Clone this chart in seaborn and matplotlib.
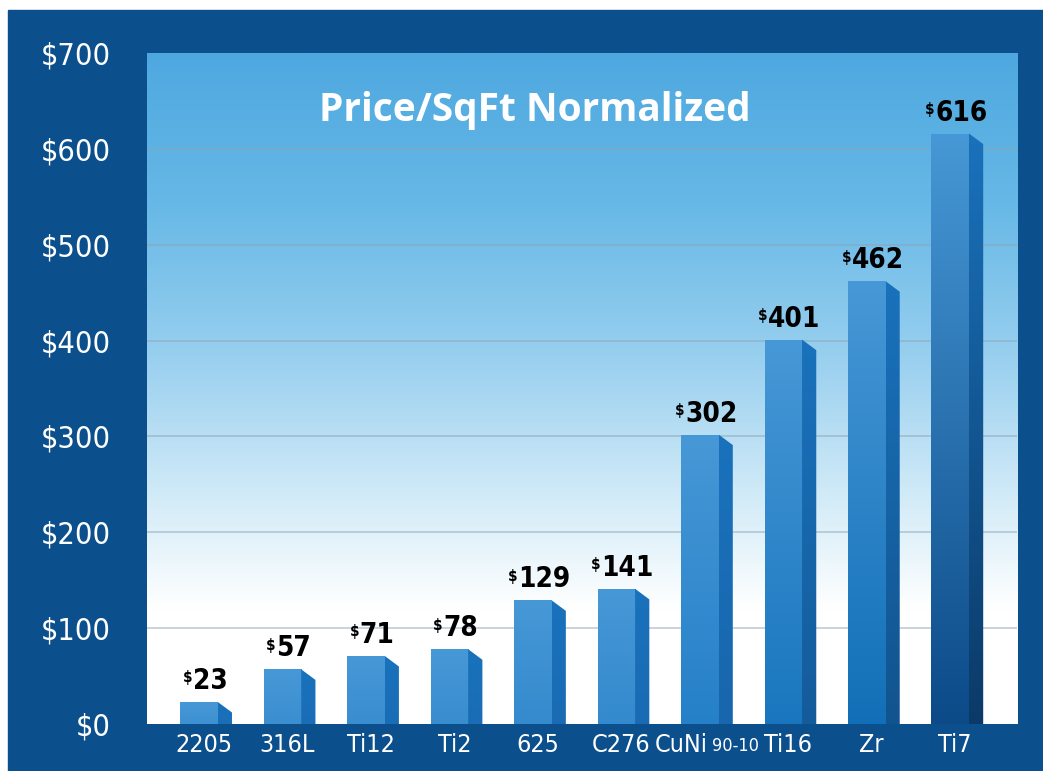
#!/usr/bin/env python3
"""Price/SqFt Normalized bar chart (pseudo-3D bars on a blue panel)."""

import os
import numpy as np
import pandas as pd
import matplotlib
matplotlib.use('Agg')
import matplotlib.pyplot as plt
from matplotlib import font_manager
from matplotlib.font_manager import FontProperties
from matplotlib.colors import LinearSegmentedColormap, to_rgb
from matplotlib.patches import Rectangle, Polygon
import seaborn as sns

# ── Data ──────────────────────────────────────────────────────────────────
materials = ['2205', '316L', 'Ti12', 'Ti2', '625', 'C276', 'CuNi 90-10', 'Ti16', 'Zr', 'Ti7']
prices = [23, 57, 71, 78, 129, 141, 302, 401, 462, 616]
y_ticks = [0, 100, 200, 300, 400, 500, 600, 700]
y_tick_labels = ['$0', '$100', '$200', '$300', '$400', '$500', '$600', '$700']

# ── Styling ───────────────────────────────────────────────────────────────
FRAME = '#0b4f8c'
W, H = 1043, 771

sns.set_theme(style='white')

# look for a condensed face (regular + bold) among the installed fonts
fonts = font_manager.fontManager.ttflist
installed = {f.name for f in fonts}


def is_narrow(f):
    base = os.path.basename(f.fname)
    return ('Narrow' in f.name or 'Condensed' in f.name or 'Condensed' in base
            or f.stretch in ('condensed', 'semi-condensed'))


narrow = [f for f in fonts if is_narrow(f) and f.style == 'normal'
          and 'Italic' not in os.path.basename(f.fname)]


def pick(target):
    cands = [f for f in narrow if '[' not in os.path.basename(f.fname)]
    if not cands:
        return None
    return min(cands, key=lambda f: abs(int(f.weight) - target) if str(f.weight).isdigit()
               else abs({'normal': 400, 'regular': 400, 'bold': 700}.get(f.weight, 400) - target))


reg_face, bold_face = pick(400), pick(700)
if reg_face is not None:
    FP_REG = FontProperties(fname=reg_face.fname)
else:
    FP_REG = FontProperties(family='Roboto' if 'Roboto' in installed else 'DejaVu Sans')
if bold_face is not None and bold_face.fname != getattr(reg_face, 'fname', None):
    FP_BOLD = FontProperties(fname=bold_face.fname)
else:
    FP_BOLD = FontProperties(family='Roboto' if 'Roboto' in installed else 'DejaVu Sans',
                             weight='bold')
TITLE_FONT = 'Open Sans' if 'Open Sans' in installed else 'DejaVu Sans'


def fp(base, size):
    p = base.copy()
    p.set_size(size)
    return p


df = pd.DataFrame({'material': materials, 'price': prices})

fig = plt.figure(figsize=(W / 100, H / 100), dpi=100)
fig.patch.set_facecolor('white')
fig.patches.append(Rectangle((8 / W, 0), 1 - 8 / W, 1 - 10 / H,
                             transform=fig.transFigure, color=FRAME, zorder=-10))

ax = fig.add_axes([147 / W, 1 - 724 / H, (1017 - 147) / W, (724 - 53) / H])

# background gradient: light sky blue at top fading to white near the bottom
bg_cmap = LinearSegmentedColormap.from_list('bg', [
    (0.00, '#ffffff'), (0.17, '#ffffff'), (0.33, '#d4ecf8'),
    (0.55, '#98cfef'), (0.78, '#66b8e6'), (1.00, '#4ea8e0')])
grad = np.linspace(0, 1, 256).reshape(-1, 1)
ax.imshow(grad, cmap=bg_cmap, origin='lower', aspect='auto',
          extent=[0, 1, 0, 1], transform=ax.transAxes, zorder=0)

sns.barplot(data=df, x='material', y='price', width=0.45, ax=ax,
            color='#4798d6', saturation=1, zorder=3)

ax.set_xlim(-0.623, 9.80)
ax.set_ylim(0, 700)
ax.set_yticks(y_ticks)
ax.set_yticklabels(y_tick_labels, color='white', fontproperties=fp(FP_REG, 22))
ax.tick_params(axis='y', length=0, pad=26)
ax.set_xticks([])
ax.set_xlabel('')
ax.set_ylabel('')
for s in ax.spines.values():
    s.set_visible(False)
for yv in y_ticks[1:-1]:
    ax.axhline(yv, color='#8ea3b3', alpha=0.55, lw=1.2, zorder=1)

# ── Pseudo-3D bars ────────────────────────────────────────────────────────
front_bottom = LinearSegmentedColormap.from_list('fb', [
    (0.00, '#3f92d2'), (0.50, '#2580c8'), (0.75, '#1270b8'), (1.00, '#0c4a88')])
side_bottom = LinearSegmentedColormap.from_list('sb', [
    (0.00, '#1a6fb8'), (0.50, '#1866ad'), (0.75, '#12548f'), (1.00, '#0b3a68')])
side_dx, side_dy = 0.17, 11

vmax = max(prices)
for patch, val in zip(ax.patches, prices):
    x0, w, h = patch.get_x(), patch.get_width(), patch.get_height()
    cm_front = LinearSegmentedColormap.from_list(
        'f', [front_bottom(val / vmax)[:3], to_rgb('#4798d6')])
    patch.set_facecolor('none')
    patch.set_edgecolor('none')
    im = ax.imshow(grad, cmap=cm_front, origin='lower', aspect='auto',
                   extent=[x0, x0 + w, 0, h], zorder=3)
    im.set_clip_path(patch)

    side = Polygon([(x0 + w, h), (x0 + w + side_dx, h - side_dy),
                    (x0 + w + side_dx, 0), (x0 + w, 0)],
                   closed=True, facecolor='none', edgecolor='none', zorder=3)
    ax.add_patch(side)
    cm_side = LinearSegmentedColormap.from_list(
        's', [side_bottom(val / vmax)[:3], to_rgb('#1a72bc')])
    im2 = ax.imshow(grad, cmap=cm_side, origin='lower', aspect='auto',
                    extent=[x0 + w, x0 + w + side_dx, 0, h], zorder=3)
    im2.set_clip_path(side)

    # value label with a small raised dollar sign
    cx = x0 + (w + side_dx) / 2
    num = ax.annotate(f'{val}', xy=(cx, h), xytext=(3, 5), textcoords='offset points',
                      ha='center', va='bottom', fontproperties=fp(FP_BOLD, 20),
                      color='black', zorder=5)
    ax.annotate('$', xy=(0, 0.88), xycoords=num, xytext=(-0.5, 0), textcoords='offset points',
                ha='right', va='top', fontproperties=fp(FP_BOLD, 11),
                color='black', zorder=5)

ax.set_xlim(-0.623, 9.80)
ax.set_ylim(0, 700)

# ── Category labels on the frame ─────────────────────────────────────────
xt = ax.get_xaxis_transform()
for i, name in enumerate(materials):
    if name.startswith('CuNi'):
        main, sub = name.split(' ')
        t = ax.text(i + 0.1, -0.032, main, transform=xt, ha='right', va='center',
                    fontproperties=fp(FP_REG, 18), color='white')
        ax.annotate(sub, xy=(1, 0.12), xycoords=t, xytext=(3, 0), textcoords='offset points',
                    ha='left', va='bottom', fontproperties=fp(FP_REG, 13), color='white')
    else:
        ax.text(i + 0.06, -0.032, name, transform=xt, ha='center', va='center',
                fontproperties=fp(FP_REG, 18), color='white')

ax.text(0.446, 0.915, 'Price/SqFt Normalized', transform=ax.transAxes,
        ha='center', va='center', fontsize=28, fontweight='bold',
        color='white', family=[TITLE_FONT, 'DejaVu Sans'], zorder=5)

plt.savefig('out.png', dpi=100)
plt.close()
